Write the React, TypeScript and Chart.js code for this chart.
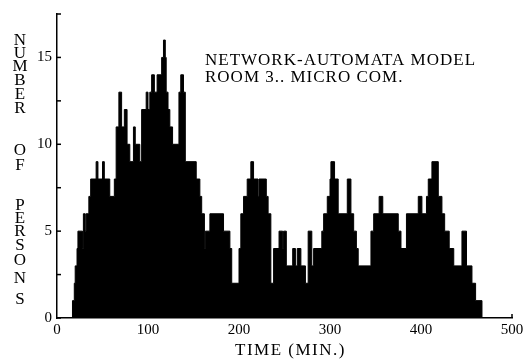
import { useEffect, useRef } from "react";
import { Chart, registerables } from "chart.js";

Chart.register(...registerables);

// Minute at which each step begins, and the number of persons held from there on
const stepStartMinutes = [
  0, 17, 19, 20, 22, 23, 28, 29, 31, 32, 35, 37, 43, 45, 50, 52, 58, 63, 65, 68,
  71, 74, 77, 80, 84, 86, 91, 93, 98, 100, 102, 104, 107, 110, 115, 117, 119, 120, 122, 124,
  127, 134, 136, 139, 141, 153, 157, 159, 162, 163, 168, 183, 190, 192, 200, 202, 205, 209, 213, 216,
  221, 222, 230, 232, 235, 238, 244, 248, 249, 252, 259, 262, 264, 268, 273, 276, 280, 282, 291, 293,
  297, 300, 301, 305, 309, 319, 323, 326, 329, 331, 345, 348, 354, 358, 375, 378, 384, 397, 401, 406,
  408, 412, 419, 423, 426, 431, 436, 445, 450, 456, 460, 467, 500,
];
const personsCount = [
  0, 1, 2, 3, 4, 5, 4, 6, 5, 6, 7, 8, 9, 8, 9, 8, 7, 8, 11, 13,
  11, 12, 10, 9, 11, 10, 9, 12, 13, 12, 13, 14, 13, 14, 15, 16, 15, 13, 12, 11,
  10, 13, 14, 13, 9, 8, 7, 6, 4, 5, 6, 5, 4, 2, 4, 6, 7, 8, 9, 8,
  7, 8, 7, 6, 2, 4, 5, 4, 5, 3, 4, 3, 4, 3, 2, 5, 3, 4, 5, 6,
  7, 8, 9, 8, 6, 8, 6, 5, 4, 3, 5, 6, 7, 6, 5, 4, 6, 7, 6, 7,
  8, 9, 7, 6, 5, 4, 3, 5, 3, 2, 1, 0, 0,
];

const yLabeledTicks = [0, 5, 10, 15];
const yAxisLetters = ["N", "U", "M", "B", "E", "R", "O", "F", "P", "E", "R", "S", "O", "N", "S"];
const noteLines = ["NETWORK-AUTOMATA MODEL", "ROOM 3.. MICRO COM."];
const xAxisTitle = "TIME (MIN.)";

const SERIF = "'Liberation Serif', 'DejaVu Serif', serif";

const paperText = {
  id: "paperText",
  afterDraw(chart: any) {
    const ctx = chart.ctx as CanvasRenderingContext2D;
    const { left, right } = chart.chartArea;
    const ys = chart.scales.y;
    const xs = chart.scales.x;
    ctx.save();
    ctx.strokeStyle = "#000";
    ctx.lineWidth = 1.5;
    for (const t of ys.ticks) {
      const py = ys.getPixelForValue(t.value);
      ctx.beginPath();
      ctx.moveTo(left, py);
      ctx.lineTo(left + 4, py);
      ctx.stroke();
    }
    const endX = xs.getPixelForValue(500);
    const baseY = ys.getPixelForValue(0);
    ctx.beginPath();
    ctx.moveTo(endX, baseY);
    ctx.lineTo(endX, baseY - 4);
    ctx.stroke();

    ctx.fillStyle = "#000";
    ctx.font = `17px ${SERIF}`;
    ctx.textAlign = "center";
    ctx.textBaseline = "middle";
    const letterY = [41, 54, 67, 81, 95, 109, 151, 166, 206, 219, 232, 246, 261, 279, 300];
    yAxisLetters.forEach((ch, i) => ctx.fillText(ch, 20, letterY[i]));

    (ctx as any).letterSpacing = "1px";
    ctx.textAlign = "left";
    ctx.fillText(noteLines[0], 205, 61);
    ctx.fillText(noteLines[1], 205, 77.5);

    (ctx as any).letterSpacing = "1.5px";
    ctx.textAlign = "center";
    ctx.fillText(xAxisTitle, (left + right) / 2 + 6, 351);
    ctx.restore();
  },
};

export default function App() {
  const ref = useRef<HTMLCanvasElement | null>(null);
  useEffect(() => {
    if (!ref.current) return;
    const points = stepStartMinutes.map((t, i) => ({ x: t, y: personsCount[i] }));
    const chart = new Chart(ref.current, {
      type: "line",
      data: {
        datasets: [
          {
            data: points,
            stepped: "before",
            fill: "origin",
            backgroundColor: "#000",
            borderColor: "#000",
            borderWidth: 1,
            pointRadius: 0,
          },
        ],
      },
      options: {
        responsive: false,
        animation: false,
        devicePixelRatio: 1,
        layout: { padding: { left: 0, right: 18, top: 10, bottom: 0 } },
        plugins: { legend: { display: false }, tooltip: { enabled: false } },
        scales: {
          x: {
            type: "linear",
            min: 0,
            max: 500,
            ticks: {
              stepSize: 100,
              font: { family: SERIF, size: 15 },
              color: "#000",
              padding: 3,
              maxRotation: 0,
              autoSkip: false,
            },
            grid: { display: false, drawTicks: false },
            border: { display: true, color: "#000", width: 1.5 },
            afterFit: (s: any) => {
              s.height = 43;
            },
          },
          y: {
            min: 0,
            max: 17.5,
            ticks: {
              stepSize: 2.5,
              callback: (v: any) => (yLabeledTicks.includes(Number(v)) ? String(v) : ""),
              font: { family: SERIF, size: 15 },
              color: "#000",
              padding: 5,
            },
            grid: { display: false, drawTicks: false },
            border: { display: true, color: "#000", width: 1.5 },
            afterFit: (s: any) => {
              s.width = 57;
            },
          },
        },
      },
      plugins: [paperText],
    });
    return () => chart.destroy();
  }, []);
  return (
    <div style={{ position: "absolute", left: 0, top: 0, width: 530, height: 361, background: "#fff" }}>
      <canvas ref={ref} width={530} height={361} style={{ display: "block" }} />
    </div>
  );
}
